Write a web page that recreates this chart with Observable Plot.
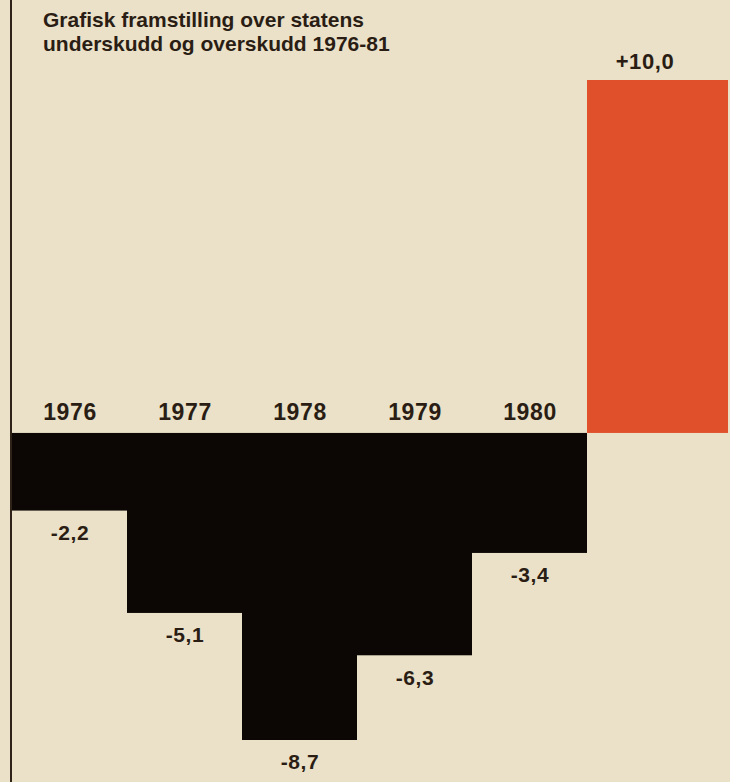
<!DOCTYPE html>
<html>
<head>
<meta charset="utf-8">
<script src="https://cdn.jsdelivr.net/npm/d3@7"></script>
<script src="https://cdn.jsdelivr.net/npm/@observablehq/plot@0.6"></script>
<style>
  html, body { margin: 0; padding: 0; background: #ebe1c9; }
  #wrap { position: relative; width: 730px; height: 782px; overflow: hidden; background: #ebe1c9; }
  #axisline { position: absolute; left: 10px; top: 0; width: 2px; height: 782px; background: #2e2219; }
  #title { position: absolute; left: 43px; top: 8px; margin: 0; font-family: "Liberation Sans", Arial, sans-serif;
           font-weight: bold; font-size: 21px; line-height: 24px; color: #2a1d14; }
  svg text { font-family: "Liberation Sans", Arial, sans-serif; letter-spacing: 0.6px; }
</style>
</head>
<body>
<div id="wrap">
  <div id="chart"></div>
  <div id="axisline"></div>
  <h1 id="title">Grafisk framstilling over statens<br>underskudd og overskudd 1976-81</h1>
</div>
<script>
const years = ["1976", "1977", "1978", "1979", "1980", "1981"];
const values = [-2.2, -5.1, -8.7, -6.3, -3.4, 10.0];
const yearLabels = ["1976", "1977", "1978", "1979", "1980"];

const data = years.map((year, i) => ({year, value: values[i]}));
const deficits = data.filter(d => d.value < 0);
const surplus = data.filter(d => d.value > 0);
const yearRows = yearLabels.map(year => ({year, zero: 0}));
const fmt = v => (v > 0 ? "+" : "-") + Math.abs(v).toFixed(1).replace(".", ",");

const ink = "#2a1d14";

const chart = Plot.plot({
  width: 730,
  height: 782,
  style: {background: "transparent", overflow: "visible"},
  x: {domain: years, range: [10, 704], padding: 0, axis: null},
  y: {domain: [-8.7, 10], range: [740, 80], axis: null},
  marks: [
    Plot.barY(deficits, {x: "year", y: "value", fill: "#0c0705"}),
    Plot.barY(surplus, {x: "year", y: "value", fill: "#e0502a", insetRight: -26}),
    Plot.text(yearRows, {x: "year", y: "zero", text: "year", dy: -21, fontSize: 23, fontWeight: "bold", fill: ink}),
    Plot.text(deficits, {x: "year", y: "value", text: d => fmt(d.value), dy: 22, fontSize: 21, fontWeight: "bold", fill: ink}),
    Plot.text(surplus, {x: "year", y: "value", text: d => fmt(d.value), dy: -19, fontSize: 22, fontWeight: "bold", fill: ink})
  ]
});
document.getElementById("chart").appendChild(chart);
</script>
</body>
</html>
